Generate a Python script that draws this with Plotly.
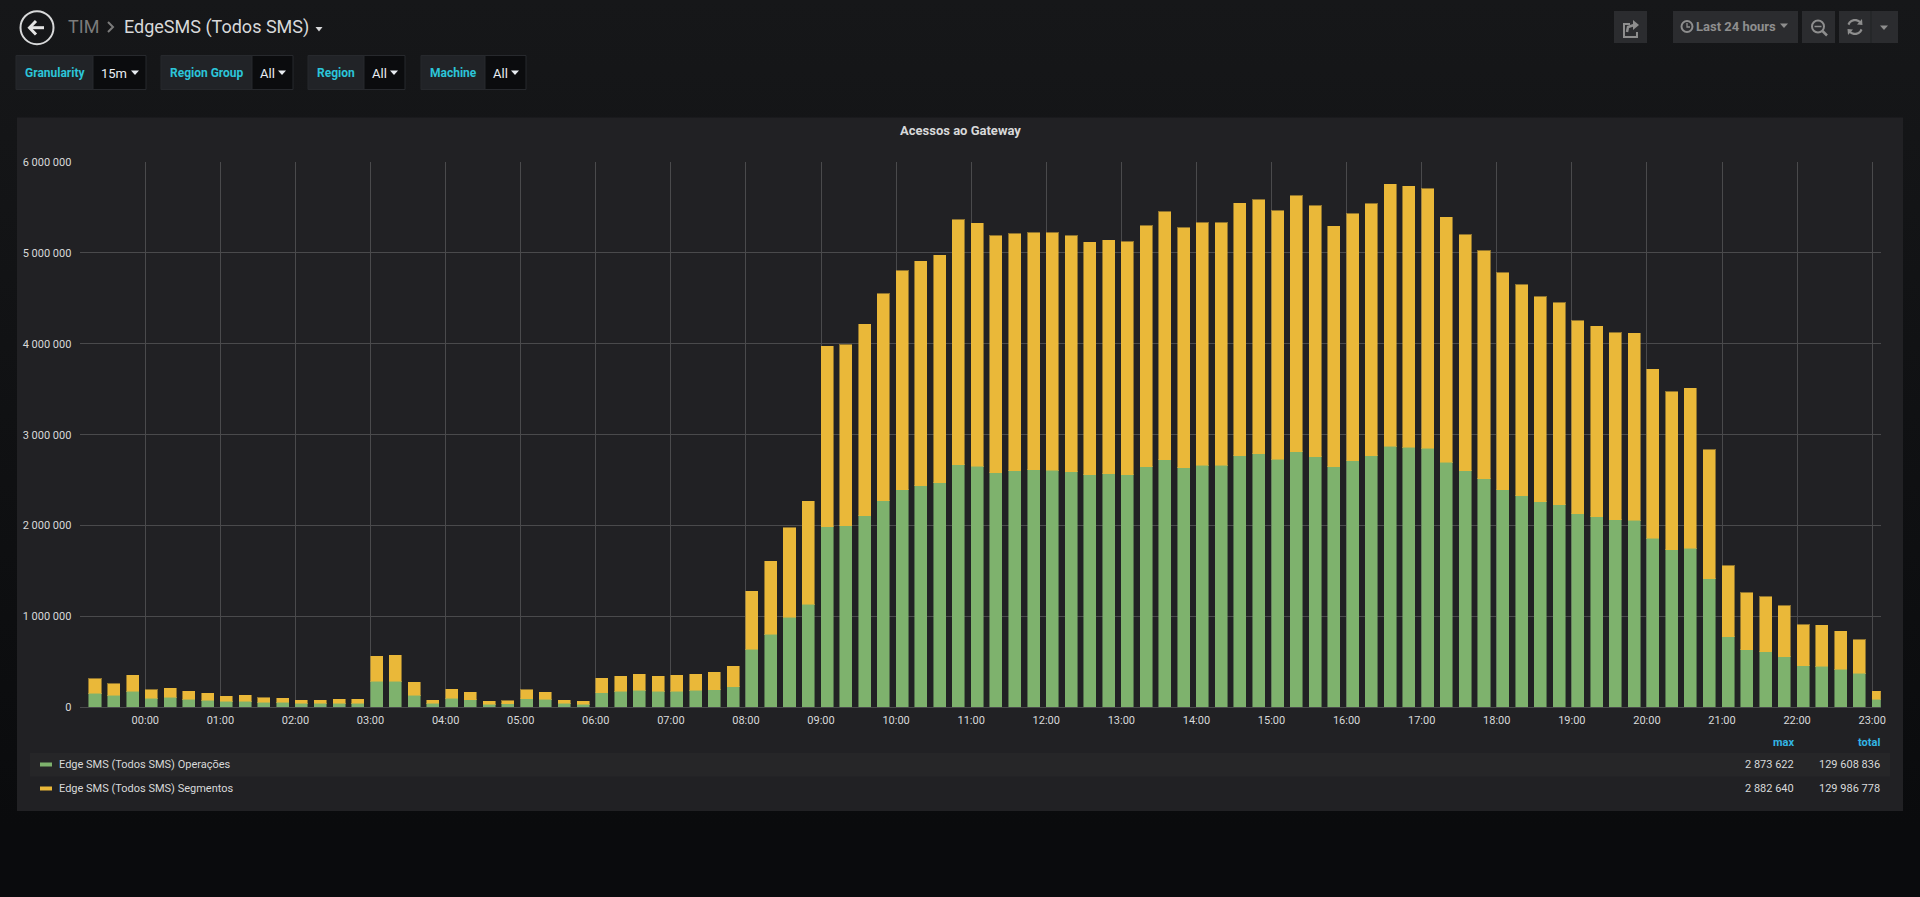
import math
import pandas as pd
import plotly.graph_objects as go

W, H = 1920, 897

# 15 minute buckets, thousands of accesses, first bar is 23:15 of the day before
operacoes = [158, 132, 176, 99, 110, 88, 77, 66, 66, 55, 55, 44, 44, 48, 48, 286, 290, 136, 44, 99, 84, 33, 40, 95,
             88, 44, 37, 161, 176, 187, 176, 176, 187, 194, 227,
             641, 806, 993, 1136, 1987, 1996, 2110, 2275, 2396, 2440, 2473, 2670, 2652, 2582, 2604, 2612,
             2608, 2593, 2560, 2571, 2560, 2648, 2725, 2637, 2663, 2663, 2769, 2791, 2729, 2813, 2755, 2645,
             2711, 2769, 2873.622, 2861, 2850, 2696, 2601, 2513, 2396, 2330, 2260, 2227, 2132, 2095, 2066, 2059,
             1861, 1736, 1751, 1418, 777, 634, 615, 560, 458, 451, 418, 374, 88]
segmentos = [157, 128, 176, 95, 99, 88, 77, 55, 66, 51, 44, 37, 33, 44, 40, 279, 286, 139, 37, 99, 81, 33, 33, 99,
             81, 33, 33, 158, 169, 180, 169, 176, 180, 191, 224,
             637, 802, 981, 1131, 1984, 1994, 2105, 2278, 2410, 2468, 2501, 2697, 2674, 2608, 2605, 2608,
             2612, 2597, 2557, 2568, 2565, 2652, 2726, 2638, 2671, 2671, 2777, 2792, 2733, 2814, 2762, 2648,
             2718, 2770, 2882.64, 2872, 2858, 2696, 2601, 2509, 2388, 2318, 2256, 2223, 2120, 2098, 2058, 2057,
             1859, 1734, 1759, 1417, 780, 626, 605, 561, 454, 454, 421, 373, 88]
times = pd.date_range("2024-01-01 23:15", periods=len(operacoes), freq="15min")

series_names = ["Edge SMS (Todos SMS) Operações", "Edge SMS (Todos SMS) Segmentos"]
series_colors = ["#7EB26D", "#EAB839"]
series_lines = ["rgba(126,178,109,0.55)", "rgba(234,184,57,0.55)"]
max_labels = ["2 873 622", "2 882 640"]
total_labels = ["129 608 836", "129 986 778"]

filter_names = ["Granularity", "Region Group", "Region", "Machine"]
filter_values = ["15m", "All", "All", "All"]
filter_boxes = [(16, 93, 146), (161, 252, 293), (308, 364, 405), (421, 485, 526)]


def px(x):
    return x / W


def py(y):
    return 1 - y / H


shapes = []
annotations = []


def rect(x0, y0, x1, y1, fill, line=None):
    shapes.append(dict(type="rect", xref="paper", yref="paper", layer="below",
                       x0=px(x0), x1=px(x1), y0=py(y0), y1=py(y1), fillcolor=fill,
                       line=dict(color=line or fill, width=1 if line else 0)))


def circle(cx, cy, r, color, width=1.5):
    shapes.append(dict(type="circle", xref="paper", yref="paper", layer="below",
                       x0=px(cx - r), x1=px(cx + r), y0=py(cy - r), y1=py(cy + r),
                       line=dict(color=color, width=width)))


def path(points, color, width=1.5, fill=None, closed=False):
    d = "M " + " L ".join(f"{px(x):.5f} {py(y):.5f}" for x, y in points) + (" Z" if closed else "")
    shapes.append(dict(type="path", xref="paper", yref="paper", layer="below", path=d,
                       fillcolor=fill or "rgba(0,0,0,0)", line=dict(color=color, width=width)))


def caret(cx, cy, color, size=4):
    path([(cx - size, cy - 2), (cx + size, cy - 2), (cx, cy + 2.5)], color, 0, fill=color, closed=True)


def text(x, y, s, size, color, anchor="left", family="Roboto"):
    annotations.append(dict(xref="paper", yref="paper", x=px(x), y=py(y), text=s, showarrow=False,
                            xanchor=anchor, yanchor="middle", borderpad=0,
                            font=dict(family=family, size=size, color=color)))


# header
circle(37, 27.7, 16.5, "#d8d9da", 2)
path([(30, 27.7), (44, 27.7)], "#e4e4e4", 3)
path([(36, 21), (29.5, 27.7), (36, 34.5)], "#e4e4e4", 3)
text(66.5, 27, "TIM", 18, "#7b7b7b")
path([(108, 22), (113, 27), (108, 32)], "#7b7b7b", 2)
text(122.5, 27, "EdgeSMS (Todos SMS)", 18, "#d8d9da")
caret(319, 29, "#d8d9da", 3.5)

# template variables
for name, value, (x0, split, x1) in zip(filter_names, filter_values, filter_boxes):
    rect(x0, 55.5, split, 89.5, "#212327", "#27292d")
    rect(split, 55.5, x1, 89.5, "#0b0c0e", "#27292d")
    text(x0 + 8, 73, f"<b>{name}</b>", 12, "#2cc5d9")
    text(split + 7, 73.5, value, 13, "#e9edf2")
    caret(x1 - 11, 72.5, "#e9edf2", 4)

# top right buttons
btn = "#2b2c2f"
icon = "#8e8e8e"
rect(1614, 11, 1647, 43, btn)
path([(1637, 32), (1637, 37), (1624, 37), (1624, 24), (1630, 24)], icon, 2)
path([(1627, 32), (1628, 27), (1634, 25)], icon, 2.5)
path([(1633, 20), (1639, 25), (1633, 30)], icon, 0, fill=icon, closed=True)
rect(1673, 11, 1798, 43, btn)
circle(1687, 26.5, 5.5, icon, 2)
path([(1687, 23), (1687, 27), (1690, 27)], icon, 1.3)
text(1695, 26.5, "<b>Last 24 hours</b>", 13, icon)
caret(1784, 25.5, icon, 4)
rect(1802, 11, 1835, 43, btn)
circle(1818, 26.5, 6, icon, 2)
path([(1814.5, 26.5), (1821.5, 26.5)], icon, 1.5)
path([(1822.5, 31), (1827, 35.5)], icon, 2.5)
rect(1839, 11, 1898, 43, btn)
path([(1871, 11), (1871, 43)], "#212225", 1)
for start in (200, 20):
    arc = [(1855 + 7 * math.cos(math.radians(start + a)), 27 + 7 * math.sin(math.radians(start + a)))
           for a in range(0, 140, 20)]
    path(arc, icon, 2.2)
path([(1862, 19), (1862.5, 25), (1857, 24.5)], icon, 0, fill=icon, closed=True)
path([(1848, 35), (1847.5, 29), (1853, 29.5)], icon, 0, fill=icon, closed=True)
caret(1884, 27.5, icon, 4)

# panel
rect(17, 117.5, 1903, 811, "#212124")
text(960, 130.5, "<b>Acessos ao Gateway</b>", 13, "#d8d9da", "center")

# legend table
rect(30, 753, 1890, 776.5, "#262628")
text(1794.5, 742.5, "<b>max</b>", 11, "#33b5e5", "right")
text(1881, 742.5, "<b>total</b>", 11, "#33b5e5", "right")
for i, yrow in enumerate((764.5, 788.5)):
    rect(40, yrow - 2, 52, yrow + 2, series_colors[i])
    text(57.5, yrow, series_names[i], 11, "#d8d9da")
    text(1794.5, yrow, max_labels[i], 11, "#d8d9da", "right")
    text(1881, yrow, total_labels[i], 11, "#d8d9da", "right")

fig = go.Figure()
for name, values, color, edge in zip(series_names, [operacoes, segmentos], series_colors, series_lines):
    fig.add_trace(go.Bar(x=times, y=[v * 1000 for v in values], name=name, offset=0, width=576000,
                         marker=dict(color=color, line=dict(color=edge, width=1))))

fig.update_layout(
    width=W, height=H, barmode="stack", showlegend=False, separators=", ",
    margin=dict(l=0, r=0, t=0, b=0, pad=0), paper_bgcolor="rgba(0,0,0,0)", plot_bgcolor="rgba(0,0,0,0)",
    font=dict(family="Roboto", size=11, color="#d8d9da"),
    shapes=shapes, annotations=annotations,
    xaxis=dict(domain=[px(79.6), px(1880.8)], type="date", automargin=False,
               range=["2024-01-01 23:07:30", "2024-01-02 23:06:54"],
               tick0="2024-01-02 00:00", dtick=3600000, tickformat="%H:%M",
               showgrid=True, gridcolor="#4a4a4c", gridwidth=1, zeroline=False,
               showline=True, linecolor="#4a4a4c", ticks="outside", ticklen=2, tickcolor="rgba(0,0,0,0)"),
    yaxis=dict(domain=[py(707.4), py(162)], range=[0, 6000000], dtick=1000000, tickformat=",d", automargin=False,
               showgrid=True, gridcolor="#4a4a4c", gridwidth=1, zeroline=False,
               ticks="outside", ticklen=5, tickcolor="rgba(0,0,0,0)"),
)

page_css = ("document.body.style.margin='0';document.body.style.overflow='hidden';"
            "document.body.style.background='linear-gradient(#161719 0%,#0a0b0d 92%)';")
fig.write_html("out.html", post_script=page_css, config={"displayModeBar": False})
